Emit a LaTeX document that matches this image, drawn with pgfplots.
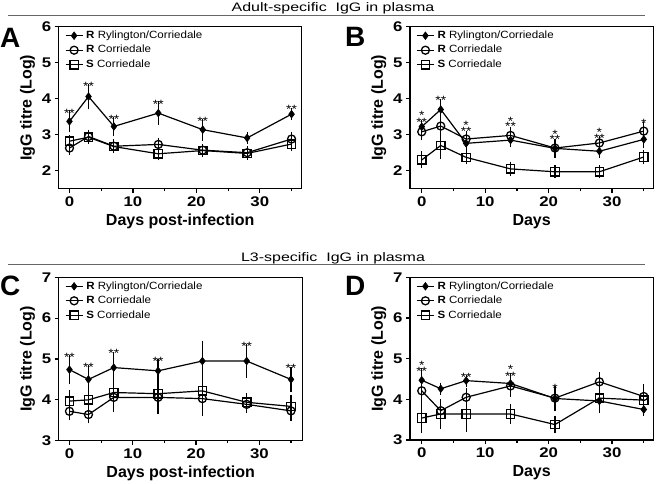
\documentclass[border=0pt]{standalone}
\usepackage{fontspec}
\setmainfont{Liberation Sans}
\newfontfamily\wf[FakeStretch=1.3]{Liberation Sans}
\newfontfamily\wg[FakeStretch=1.15]{Liberation Sans}
\newfontfamily\wl[FakeStretch=1.1]{Liberation Sans}
\newfontfamily\wt[FakeStretch=1.2]{Liberation Sans}
\usepackage{pgfplots}
\pgfplotsset{compat=1.18}
\pgfplotsset{
  panel/.style={
    scale only axis, anchor=south west,
    axis line style={line width=1.3pt},
    xtick={0,10,20,30}, minor xtick={5,15,25,35},
    tick align=outside, tick pos=left,
    major tick length=4pt, minor tick length=2.5pt,
    tick style={line width=1.2pt, black},
    tick label style={font=\wt\fontsize{14}{14}\selectfont\bfseries},
    /pgf/number format/assume math mode=true,
    label style={font=\fontsize{16}{16}\selectfont\bfseries},
    xlabel style={yshift=-1pt},
    ylabel={IgG titre (Log)},
    legend style={draw=none, fill=none, at={(0.025,0.975)}, anchor=north west,
      font=\wl\fontsize{10.5}{10.5}\selectfont, inner sep=0pt, row sep=5pt, column sep=3pt,
      nodes={inner sep=0pt, text height=7.5pt, text depth=2pt}},
    legend cell align=left,
    clip=false,
  },
  ser/.style={black, line width=1.2pt,
    error bars/y dir=both, error bars/y explicit,
    error bars/error bar style={line width=1.2pt, black, solid},
    error bars/error mark options={line width=1.2pt, mark size=4.8pt, black}},
  ryl/.style={ser, mark=diamond*, mark size=3.8pt, mark options={solid, fill=black, line width=0.6pt}},
  cir/.style={ser, mark=o, mark size=4pt, mark options={solid, line width=1.3pt}},
  squ/.style={ser, mark=square, mark size=4.2pt, mark options={solid, line width=1.3pt}},
}
\tikzset{st/.style={font=\wg\fontsize{12}{12}\selectfont, inner sep=0pt, anchor=center, yshift=-2.8pt}}
\begin{document}
\begin{tikzpicture}
\path[use as bounding box] (0pt,0pt) rectangle (657pt,483pt);
% titles
\node[anchor=base, font=\wf\fontsize{12.3}{12.3}\selectfont, inner sep=0pt] at (333pt,471pt) {Adult-specific\ \ IgG in plasma};
\draw[black!60, line width=0.8pt] (8pt,468pt) -- (645pt,468pt);
\node[anchor=base, font=\wf\fontsize{12.3}{12.3}\selectfont, inner sep=0pt] at (333pt,222pt) {L3-specific\ \ IgG in plasma};
\draw[black!60, line width=0.8pt] (8pt,219pt) -- (645pt,219pt);
% panel letters
\node[anchor=base west, font=\fontsize{28}{28}\selectfont\bfseries, inner sep=0pt] at (0pt,435pt) {A};
\node[anchor=base west, font=\fontsize{28}{28}\selectfont\bfseries, inner sep=0pt] at (345pt,436pt) {B};
\node[anchor=base west, font=\fontsize{28}{28}\selectfont\bfseries, inner sep=0pt] at (0pt,188pt) {C};
\node[anchor=base west, font=\fontsize{28}{28}\selectfont\bfseries, inner sep=0pt] at (345pt,188pt) {D};

% ---------------- Panel A
\begin{axis}[panel, at={(58.7pt,294.3pt)}, width=243pt, height=162pt,
  xmin=-1.7, xmax=36.6, ymin=1.5, ymax=6, ytick={2,3,4,5,6},
  xlabel={Days post-infection}]
\addplot[ryl] coordinates {(0,3.37) +- (0,0.17) (3,4.06) +- (0,0.22) (7,3.23) +- (0,0.14) (14,3.60) +- (0,0.19) (21,3.14) +- (0,0.17) (28,2.91) +- (0,0.03) (35,3.57) +- (0,0.03)};
\addlegendentry{\textbf{R} Rylington/Corriedale}
\addplot[cir] coordinates {(0,2.63) +- (0,0.05) (3,2.95) +- (0,0.05) (7,2.68) +- (0,0.06) (14,2.73) +- (0,0.05) (21,2.57) +- (0,0.04) (28,2.50) +- (0,0.04) (35,2.88) +- (0,0.05)};
\addlegendentry{\textbf{R} Corriedale}
\addplot[squ] coordinates {(0,2.82) +- (0,0.05) (3,2.93) +- (0,0.05) (7,2.67) +- (0,0.05) (14,2.47) +- (0,0.05) (21,2.56) +- (0,0.04) (28,2.48) +- (0,0.04) (35,2.74) +- (0,0.06)};
\addlegendentry{\textbf{S} Corriedale}
\node[st] at (axis cs:0,3.68) {**};
\node[st] at (axis cs:3,4.43) {**};
\node[st] at (axis cs:7,3.51) {**};
\node[st] at (axis cs:14,3.93) {**};
\node[st] at (axis cs:21,3.46) {**};
\node[st] at (axis cs:35,3.78) {**};
\end{axis}

% ---------------- Panel B
\begin{axis}[panel, at={(410pt,294.3pt)}, width=243.3pt, height=162pt,
  xmin=-1.85, xmax=36.5, ymin=1.5, ymax=6, ytick={2,3,4,5,6},
  xlabel={Days}]
\addplot[ryl] coordinates {(0,3.22) +- (0,0.05) (3,3.70) +- (0,0.15) (7,2.76) +- (0,0.10) (14,2.85) +- (0,0.06) (21,2.62) +- (0,0.12) (28,2.54) +- (0,0.05) (35,2.87) +- (0,0.10)};
\addlegendentry{\textbf{R} Rylington/Corriedale}
\addplot[cir] coordinates {(0,3.08) +- (0,0.10) (3,3.24) +- (0,0.08) (7,2.88) +- (0,0.10) (14,2.98) +- (0,0.10) (21,2.63) +- (0,0.12) (28,2.77) +- (0,0.06) (35,3.10) +- (0,0.12)};
\addlegendentry{\textbf{R} Corriedale}
\addplot[squ] coordinates {(0,2.30) +- (0,0.10) (3,2.70) +- (0,0.24) (7,2.37) +- (0,0.06) (14,2.05) +- (0,0.06) (21,1.97) +- (0,0.05) (28,1.97) +- (0,0.05) (35,2.38) +- (0,0.07)};
\addlegendentry{\textbf{S} Corriedale}
\node[st] at (axis cs:0,3.61) {*};
\node[st] at (axis cs:0,3.43) {**};
\node[st] at (axis cs:3,4.02) {**};
\node[st] at (axis cs:7,3.33) {*};
\node[st] at (axis cs:7,3.17) {**};
\node[st] at (axis cs:14,3.45) {*};
\node[st] at (axis cs:14,3.31) {**};
\node[st] at (axis cs:21,3.10) {*};
\node[st] at (axis cs:21,2.95) {**};
\node[st] at (axis cs:28,3.15) {*};
\node[st] at (axis cs:28,2.98) {**};
\node[st] at (axis cs:35,3.38) {*};
\end{axis}

% ---------------- Panel C
\begin{axis}[panel, at={(58.7pt,42.3pt)}, width=244pt, height=163.4pt,
  xmin=-1.7, xmax=36.85, ymin=3, ymax=7, ytick={3,4,5,6,7},
  xlabel={Days post-infection}]
\addplot[ryl] coordinates {(0,4.74) +- (0,0.24) (3,4.50) +- (0,0.23) (7,4.79) +- (0,0.27) (14,4.71) +- (0,0.18) (21,4.95) +- (0,0.38) (28,4.95) +- (0,0.29) (35,4.50) +- (0,0.18)};
\addlegendentry{\textbf{R} Rylington/Corriedale}
\addplot[cir] coordinates {(0,3.72) +- (0,0.10) (3,3.64) +- (0,0.10) (7,4.06) +- (0,0.25) (14,4.06) +- (0,0.30) (21,4.03) +- (0,0.30) (28,3.89) +- (0,0.10) (35,3.73) +- (0,0.12)};
\addlegendentry{\textbf{R} Corriedale}
\addplot[squ] coordinates {(0,3.97) +- (0,0.15) (3,4.00) +- (0,0.15) (7,4.18) +- (0,0.15) (14,4.15) +- (0,0.22) (21,4.22) +- (0,0.20) (28,3.94) +- (0,0.10) (35,3.84) +- (0,0.15)};
\addlegendentry{\textbf{S} Corriedale}
\node[st] at (axis cs:0,5.10) {**};
\node[st] at (axis cs:3,4.87) {**};
\node[st] at (axis cs:7,5.20) {**};
\node[st] at (axis cs:14,5.01) {**};
\node[st] at (axis cs:28,5.37) {**};
\node[st] at (axis cs:35,4.83) {**};
\end{axis}

% ---------------- Panel D
\begin{axis}[panel, at={(410pt,43pt)}, width=243.3pt, height=162.7pt,
  xmin=-1.85, xmax=36.5, ymin=3, ymax=7, ytick={3,4,5,6,7},
  xlabel={Days}]
\addplot[ryl] coordinates {(0,4.47) +- (0,0.17) (3,4.26) +- (0,0.03) (7,4.46) +- (0,0.03) (14,4.39) +- (0,0.15) (21,4.02) +- (0,0.20) (28,3.96) +- (0,0.05) (35,3.75) +- (0,0.03)};
\addlegendentry{\textbf{R} Rylington/Corriedale}
\addplot[cir] coordinates {(0,4.21) +- (0,0.22) (3,3.72) +- (0,0.15) (7,4.05) +- (0,0.10) (14,4.33) +- (0,0.15) (21,4.03) +- (0,0.15) (28,4.43) +- (0,0.12) (35,4.07) +- (0,0.18)};
\addlegendentry{\textbf{R} Corriedale}
\addplot[squ] coordinates {(0,3.54) +- (0,0.26) (3,3.64) +- (0,0.25) (7,3.64) +- (0,0.33) (14,3.64) +- (0,0.12) (21,3.38) +- (0,0.10) (28,4.03) +- (0,0.25) (35,3.98) +- (0,0.15)};
\addlegendentry{\textbf{S} Corriedale}
\node[st] at (axis cs:0,4.90) {*};
\node[st] at (axis cs:0,4.76) {**};
\node[st] at (axis cs:7,4.60) {**};
\node[st] at (axis cs:14,4.80) {*};
\node[st] at (axis cs:14,4.64) {**};
\node[st] at (axis cs:21,4.33) {*};
\end{axis}
\end{tikzpicture}
\end{document}
